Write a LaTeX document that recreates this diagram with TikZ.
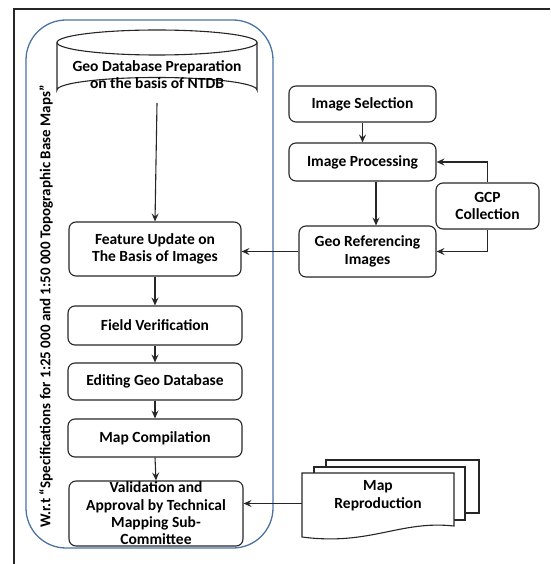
\documentclass[tikz,border=0pt]{standalone}
\usepackage{fontspec}
\setmainfont{Carlito}
\usetikzlibrary{arrows.meta,calc}
\definecolor{frameblue}{RGB}{75,115,165}
\tikzset{
  box/.style={draw=black!85, line width=1.1pt, rounded corners=7pt, align=center, font=\fontsize{15.5}{17.5}\selectfont\bfseries, inner sep=0pt},
  arr/.style={draw=black!85, line width=1.1pt, -{Stealth[length=8pt,width=7pt,inset=3pt]}},
  txt/.style={align=center, font=\fontsize{15.5}{17.5}\selectfont\bfseries, inner sep=0pt}
}
\begin{document}
\begin{tikzpicture}[x=1pt,y=-1pt]
\useasboundingbox (0,0) rectangle (550,564);
% outer frame (partially visible)
\draw[line width=2pt, black!85] (14,564) -- (14,9.5) -- (550,9.5);
% blue rounded container
\draw[frameblue, line width=1.3pt, rounded corners=40pt] (26,20) rectangle (273,548);
\node[txt, rotate=90, font=\fontsize{15}{17}\selectfont\bfseries] (spec) at (46,306.5) {W.r.t “Specifications for 1:25 000 and 1:50 000 Topographic Base Maps”};
% cylinder
\draw[black!85, line width=1.1pt, fill=white] (57,42.5) -- (57,90) arc[start angle=180, end angle=360, x radius=100, y radius=12.5] -- (257,42.5);
\draw[black!85, line width=1.1pt] (157,42.5) ellipse[x radius=100, y radius=12.5];
\node[txt] (gdb) at (157,74.5) {Geo Database Preparation\\on the basis of NTDB};
\coordinate (gdbb) at (157,103);
% left column
\node[box, minimum width=172pt, minimum height=54pt] (feat) at (155,249) {Feature Update on\\The Basis of Images};
\node[box, minimum width=174pt, minimum height=39pt] (field) at (155,325.5) {Field Verification};
\node[box, minimum width=174pt, minimum height=37pt] (edit) at (155,381.5) {Editing Geo Database};
\node[box, minimum width=174pt, minimum height=38pt] (comp) at (155,438) {Map Compilation};
\node[box, minimum width=174pt, minimum height=65pt, font=\fontsize{15.5}{17.3}\selectfont\bfseries] (valid) at (156,513.5) {Validation and\\Approval by Technical\\Mapping Sub-\\Committee};
% right column
\node[box, minimum width=147pt, minimum height=36pt] (isel) at (362.5,104) {Image Selection};
\node[box, minimum width=147pt, minimum height=38pt] (iproc) at (362.5,162) {Image Processing};
\node[box, minimum width=103pt, minimum height=46pt] (gcp) at (487.5,206) {GCP\\Collection};
\node[box, minimum width=137pt, minimum height=51pt] (geo) at (367.5,251.5) {Geo Referencing\\Images};
% map reproduction documents
\draw[black!85, line width=1.1pt, fill=white] (326,460) rectangle (479,513);
\draw[black!85, line width=1.1pt, fill=white] (314,467) rectangle (465,520);
\draw[black!85, line width=1.1pt, fill=white] (302,473) -- (454,473) -- (454,526) .. controls (400,520) and (370,546) .. (302,537) -- cycle;
\node[txt] (mrep) at (378,495.5) {Map\\Reproduction};
\coordinate (mrepl) at (302,503.5);
% connectors
\draw[arr] (gdbb) -- (feat.north);
\draw[arr] (feat.south) -- (field.north);
\draw[arr] (field.south) -- (edit.north);
\draw[arr] (edit.south) -- (comp.north);
\draw[arr] (comp.south) -- (valid.north);
\draw[arr] (isel.south) -- (iproc.north);
\draw[arr] ($(iproc.south)+(13.5,0)$) -- ($(geo.north)+(8.5,0)$);
\draw[arr] (gcp.north) |- (iproc.east);
\draw[arr] (gcp.south) |- (geo.east);
\draw[arr] (geo.west) -- (feat.east |- geo.west);
\draw[arr] (mrepl) -- (valid.east |- mrepl);
\end{tikzpicture}
\end{document}
